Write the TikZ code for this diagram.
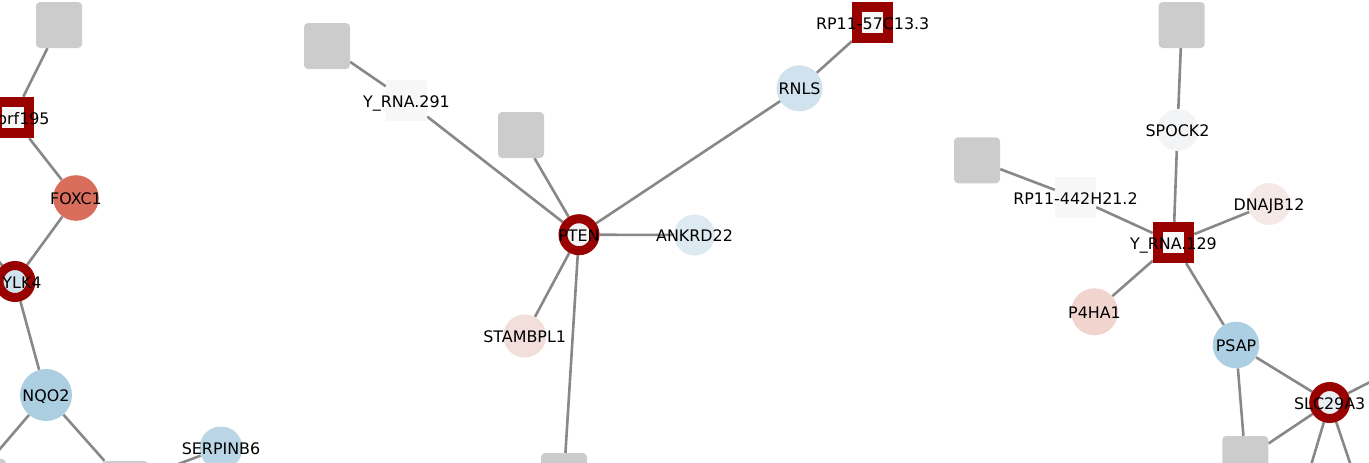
\documentclass[tikz,border=0pt]{standalone}
\usepackage{fontspec}
\setmainfont{DejaVu Sans}
\usetikzlibrary{backgrounds}
\definecolor{sqgray}{HTML}{CCCCCC}
\definecolor{dred}{HTML}{990000}
\definecolor{edgegray}{HTML}{888888}
\definecolor{lightsqc}{HTML}{F7F7F7}
\definecolor{cFOXC}{RGB}{217,109,92}
\definecolor{cNQO}{RGB}{172,206,225}
\definecolor{cSERP}{RGB}{186,214,230}
\definecolor{cRNLS}{RGB}{208,226,237}
\definecolor{cANK}{RGB}{222,234,241}
\definecolor{cSTAM}{RGB}{242,222,218}
\definecolor{cSPOCK}{RGB}{243,244,246}
\definecolor{cDNA}{RGB}{245,233,231}
\definecolor{cPHA}{RGB}{241,212,206}
\definecolor{cPSAP}{RGB}{172,207,227}
\definecolor{cMYLK}{RGB}{207,226,237}
\definecolor{cPTEN}{RGB}{243,243,243}
\definecolor{cSLC}{RGB}{233,239,243}
\begin{document}
\begin{tikzpicture}[x=1pt,y=-1pt,
  graysq/.style={rectangle, rounded corners=4pt, fill=sqgray, minimum size=46pt, inner sep=0pt},
  lightsq/.style={rectangle, fill=lightsqc, minimum size=41pt, inner sep=0pt},
  redsq/.style={rectangle, draw=dred, line width=10pt, fill=lightsqc, minimum size=31.5pt, inner sep=0pt},
  ringnode/.style={circle, draw=dred, line width=9pt, minimum size=32pt, inner sep=0pt},
  circnode/.style={circle, inner sep=0pt},
  lbl/.style={font=\fontsize{15.9}{18}\selectfont, text=black, inner sep=0pt, text height=11.6pt, text depth=0pt, yshift=-0.7pt},
  edge/.style={draw=edgegray, line width=2.6pt}]
\useasboundingbox (0,0) rectangle (1369,463);
% left cluster
\node[graysq] (gA) at (59,25) {};
\node[redsq, label={[lbl,xshift=10.5pt]center:orf195}] (orf) at (13,117.5) {};
\node[circnode, fill=cFOXC, minimum size=45.6pt, label={[lbl]center:FOXC1}] (foxc) at (76,198) {};
\node[ringnode, fill=cMYLK, label={[lbl,xshift=7pt]center:YLK4}] (mylk) at (15,281.5) {};
\node[circnode, fill=cNQO, minimum size=52pt, label={[lbl]center:NQO2}] (nqo) at (46,395) {};
\node[circnode, fill=cSERP, minimum size=43pt, label={[lbl]center:SERPINB6}] (serp) at (221,448) {};
\node[graysq] (gB) at (125,484) {};
\node[graysq] (gC) at (-17,482) {};
\coordinate (offA) at (-20,238);
\coordinate (offB) at (-30,484);
% middle cluster
\node[graysq] (gD) at (327,46) {};
\node[lightsq, label={[lbl]center:Y\_RNA.291}] (yr291) at (406.5,100.5) {};
\node[graysq] (gE) at (521,135) {};
\node[ringnode, fill=cPTEN, label={[lbl]center:PTEN}] (pten) at (579,234.7) {};
\node[circnode, fill=cANK, minimum size=41pt, label={[lbl]center:ANKRD22}] (ank) at (694.5,235) {};
\node[circnode, fill=cRNLS, minimum size=46pt, label={[lbl]center:RNLS}] (rnls) at (799.5,88.3) {};
\node[redsq, label={[lbl]center:RP11-57C13.3}] (rp57) at (872.7,22.5) {};
\node[circnode, fill=cSTAM, minimum size=43pt, label={[lbl]center:STAMBPL1}] (stam) at (524.7,336) {};
\node[graysq] (gF) at (564,476) {};
% right cluster
\node[graysq] (gG) at (1181.7,25) {};
\node[circnode, fill=cSPOCK, minimum size=41.5pt, label={[lbl]center:SPOCK2}] (spock) at (1177.5,130) {};
\node[graysq] (gH) at (977,160.3) {};
\node[lightsq, label={[lbl]center:RP11-442H21.2}] (rp442) at (1075.5,197.7) {};
\node[redsq, label={[lbl]center:Y\_RNA.129}] (yr129) at (1173.5,242.5) {};
\node[circnode, fill=cDNA, minimum size=42pt, label={[lbl]center:DNAJB12}] (dnaj) at (1269,204) {};
\node[circnode, fill=cPHA, minimum size=47pt, label={[lbl]center:P4HA1}] (p4ha) at (1094.5,311.8) {};
\node[circnode, fill=cPSAP, minimum size=46.6pt, label={[lbl]center:PSAP}] (psap) at (1236,345) {};
\node[ringnode, fill=cSLC, label={[lbl]center:SLC29A3}] (slc) at (1329.7,402.5) {};
\node[graysq] (gI) at (1245.3,459) {};
\coordinate (offC) at (1400,366.9);
\coordinate (offD) at (1300.7,500);
\coordinate (offE) at (1362.4,500);
\begin{scope}[on background layer]
\draw[edge] (gA) -- (orf);
\draw[edge] (orf) -- (foxc);
\draw[edge] (foxc) -- (mylk);
\draw[edge] (mylk) -- (offA);
\draw[edge] (mylk) -- (nqo);
\draw[edge] (nqo) -- (offB);
\draw[edge] (nqo) -- (gB);
\draw[edge] (serp) -- (gB);
\draw[edge] (gD) -- (yr291);
\draw[edge] (yr291) -- (pten);
\draw[edge] (gE) -- (pten);
\draw[edge] (pten) -- (rnls);
\draw[edge] (pten) -- (ank);
\draw[edge] (pten) -- (stam);
\draw[edge] (pten) -- (gF);
\draw[edge] (rnls) -- (rp57);
\draw[edge] (gG) -- (spock);
\draw[edge] (spock) -- (yr129);
\draw[edge] (gH) -- (rp442);
\draw[edge] (rp442) -- (yr129);
\draw[edge] (yr129) -- (dnaj);
\draw[edge] (yr129) -- (p4ha);
\draw[edge] (yr129) -- (psap);
\draw[edge] (psap) -- (slc);
\draw[edge] (psap) -- (gI);
\draw[edge] (slc) -- (gI);
\draw[edge] (slc) -- (offC);
\draw[edge] (slc) -- (offD);
\draw[edge] (slc) -- (offE);
\end{scope}
\end{tikzpicture}
\end{document}
